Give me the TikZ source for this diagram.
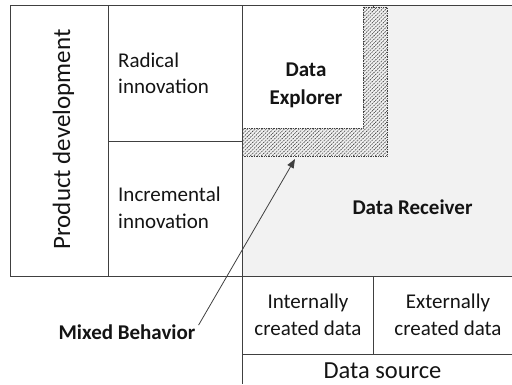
\documentclass[tikz,border=0pt]{standalone}
\usepackage{fontspec}
\setmainfont{Carlito}
\usetikzlibrary{arrows.meta,patterns.meta}
\definecolor{linec}{HTML}{404040}
\definecolor{recv}{HTML}{F2F2F2}
\definecolor{txt}{HTML}{141414}
\begin{document}
\begin{tikzpicture}[x=1pt,y=-1pt,
  grid/.style={draw=linec,line width=0.9pt},
  lbl/.style={inner sep=0pt,text=txt,font=\fontsize{21}{26.5}\selectfont},
  blbl/.style={inner sep=0pt,text=txt,font=\fontsize{21}{28}\selectfont\bfseries},
  hatch/.style={draw=linec,densely dotted,line width=0.7pt,
    pattern={Lines[angle=45,distance=2.6pt,line width=0.75pt]},pattern color=linec},
  arr/.style={draw=linec,line width=0.8pt,-{Triangle[length=9pt,width=7pt]}}
]
\useasboundingbox (0,0) rectangle (512,384);
% receiver area
\fill[recv] (242,5) rectangle (512,276);
\fill[white] (242,5) rectangle (363,128);
\draw[hatch] (242,128) -- (363,128) -- (363,7) -- (387,7) -- (387,156) -- (242,156) -- cycle;
% grid lines
\draw[grid] (10,5) -- (512,5);
\draw[grid] (10,5) -- (10,276);
\draw[grid] (108,5) -- (108,276);
\draw[grid] (242,5) -- (242,384);
\draw[grid] (108,141) -- (242,141);
\draw[grid] (10,276) -- (512,276);
\draw[grid] (373,276) -- (373,354);
\draw[grid] (242,354) -- (512,354);
\draw[grid,line width=0.6pt] (373,5) -- (373,8);
% texts
\node[lbl,font=\fontsize{25}{30}\selectfont,rotate=90,anchor=base] (pd) at (70,139.5) {Product development};
\node[lbl,align=left,anchor=west] (rad) at (118,73.5) {Radical\\innovation};
\node[lbl,align=left,anchor=west] (inc) at (118,208) {Incremental\\innovation};
\node[blbl,align=center] (dexp) at (306,85) {Data\\Explorer};
\node[blbl,anchor=base] (drec) at (412.5,214) {Data Receiver};
\node[blbl,anchor=base] (mixed) at (127,339) {Mixed Behavior};
\node[lbl,align=center] (intl) at (308,315) {Internally\\created data};
\node[lbl,align=center] (extl) at (448,315) {Externally\\created data};
\node[lbl,font=\fontsize{24.5}{29}\selectfont,anchor=base] (dsrc) at (382.5,378) {Data source};
% arrow
\coordinate (mbend) at ([xshift=3pt,yshift=-1pt]mixed.north east);
\coordinate (mbtip) at (295,159);
\draw[arr] (mbend) -- (mbtip);
\end{tikzpicture}
\end{document}
